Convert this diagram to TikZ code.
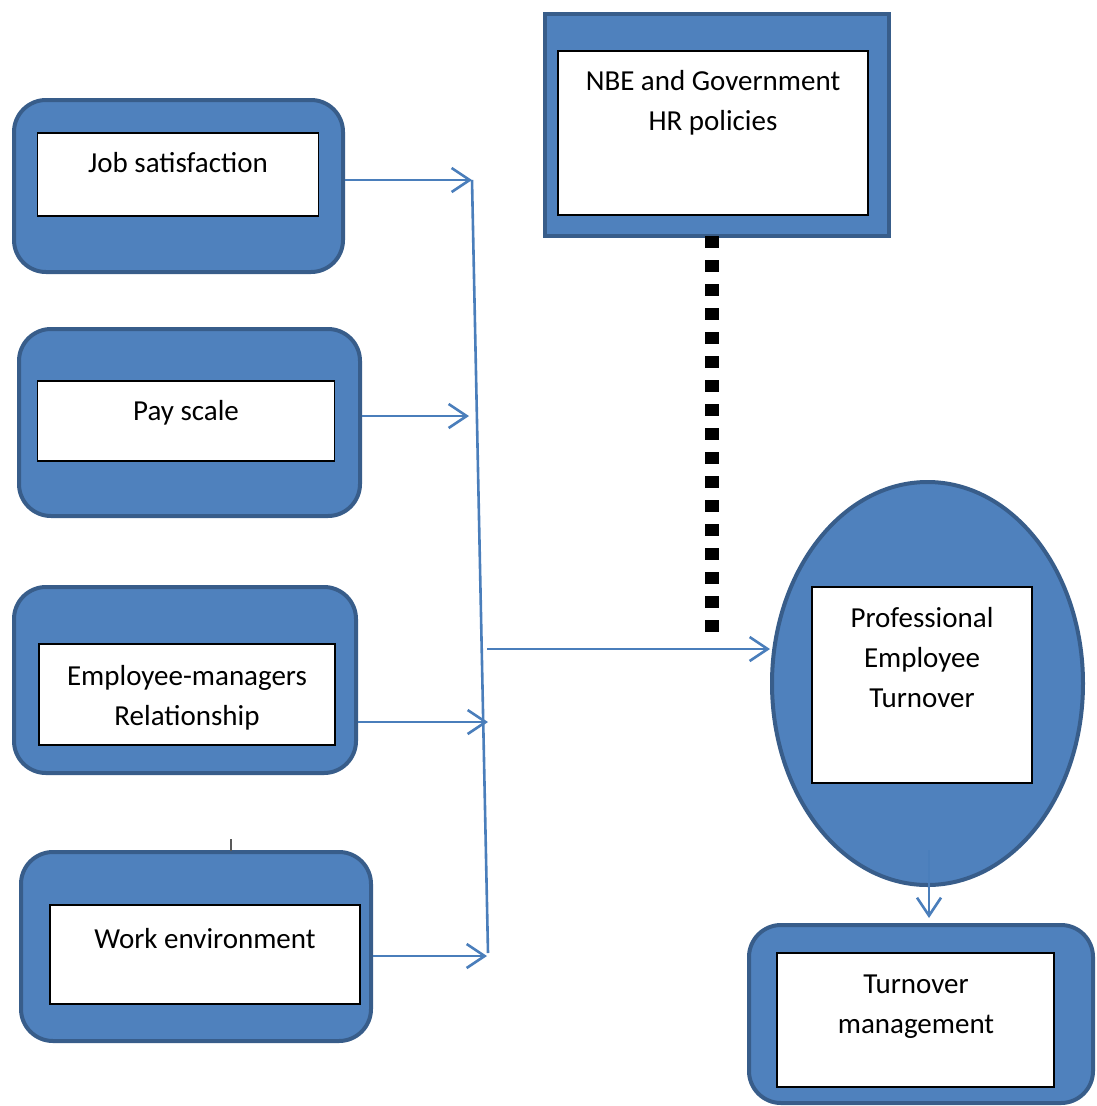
\documentclass[tikz,border=0pt]{standalone}
\usepackage{fontspec}
\setmainfont{Carlito}
\usetikzlibrary{arrows.meta,shapes.geometric}
\definecolor{fillblue}{HTML}{4F81BD}
\definecolor{edgeblue}{HTML}{385D8A}
\definecolor{linkblue}{HTML}{4A7EBB}
\begin{document}
\begin{tikzpicture}[x=1pt,y=-1pt,
  outerbox/.style={draw=edgeblue, fill=fillblue, line width=4pt, rounded corners=32pt, inner sep=0pt},
  squarebox/.style={draw=edgeblue, fill=fillblue, line width=4pt, inner sep=0pt},
  ovalbox/.style={draw=edgeblue, fill=fillblue, line width=4pt, ellipse, inner sep=0pt},
  innerbox/.style={draw=black, fill=white, line width=1.2pt, inner sep=0pt},
  label/.style={font=\fontsize{29}{40}\selectfont, align=center, anchor=base, inner sep=0pt},
  link/.style={draw=linkblue, line width=2.6pt, -{Straight Barb[length=18pt,width=24pt,line width=2.6pt]}},
  plainlink/.style={draw=linkblue, line width=2.6pt},
  dotted link/.style={draw=black, line width=14pt, dash pattern=on 12pt off 12pt}
]
\useasboundingbox (0,0) rectangle (1096,1106);
\fill[white] (0,0) rectangle (1096,1106);

% Job satisfaction
\node[outerbox, minimum width=329pt, minimum height=172pt] (jobO) at (178.5,186) {};
\node[innerbox, minimum width=281pt, minimum height=83pt] (jobI) at (178,174.5) {};
\node[label] (jobT) at (178,172) {Job satisfaction};

% Pay scale
\node[outerbox, minimum width=341pt, minimum height=187pt] (payO) at (189.5,422.5) {};
\node[innerbox, minimum width=297pt, minimum height=80pt] (payI) at (186,421) {};
\node[label] (payT) at (186,420) {Pay scale};

% Employee-managers (anchor = baseline of last line)
\node[outerbox, minimum width=342pt, minimum height=186pt] (empO) at (185,680) {};
\node[innerbox, minimum width=296pt, minimum height=101pt] (empI) at (187,694.5) {};
\node[label] (empT) at (187,725) {Employee-managers\\Relationship};

% Work environment
\node[outerbox, minimum width=350pt, minimum height=189pt] (workO) at (196,946.5) {};
\node[innerbox, minimum width=310pt, minimum height=99pt] (workI) at (205,954.5) {};
\node[label] (workT) at (205,948) {Work environment};
\coordinate (tickA) at (231,839);
\coordinate (tickB) at (231,851);
\draw[draw=black!65, line width=1.5pt] (tickA) -- (tickB);

% NBE
\node[squarebox, minimum width=344pt, minimum height=222pt] (nbeO) at (717,125) {};
\node[innerbox, minimum width=310pt, minimum height=164pt] (nbeI) at (713,133) {};
\node[label] (nbeT) at (713,130) {NBE and Government\\HR policies};

% Professional Employee Turnover
\node[ovalbox, minimum width=311pt, minimum height=403pt] (petO) at (927.5,683.5) {};
\node[innerbox, minimum width=220pt, minimum height=196pt] (petI) at (922,685) {};
\node[label] (petT) at (922,707) {Professional\\Employee\\Turnover};

% Turnover management
\node[outerbox, minimum width=344pt, minimum height=178pt] (tmO) at (921,1014) {};
\node[innerbox, minimum width=277pt, minimum height=134pt] (tmI) at (915.5,1020) {};
\node[label] (tmT) at (916,1033) {Turnover\\management};

% connectors
\coordinate (jTop) at (472,180);
\coordinate (jBot) at (488,953);
\coordinate (payEnd) at (469,416);
\coordinate (empEnd) at (488,722);
\coordinate (workEnd) at (487,956);
\coordinate (midStart) at (487,649);
\coordinate (dashTop) at (712,236);
\coordinate (dashBot) at (712,641);
\coordinate (downStart) at (929,850);
\coordinate (downEnd) at (929,918);

\draw[link] (jobO.east |- jTop) -- (jTop);
\draw[link] (payO.east |- payEnd) -- (payEnd);
\draw[link] (empO.east |- empEnd) -- (empEnd);
\draw[link] (workO.east |- workEnd) -- (workEnd);
\draw[plainlink] (jTop) -- (jBot);
\draw[link] (midStart) -- (petO.west |- midStart);
\draw[dotted link] (dashTop) -- (dashBot);
\draw[link] (downStart) -- (downEnd);
\end{tikzpicture}
\end{document}
